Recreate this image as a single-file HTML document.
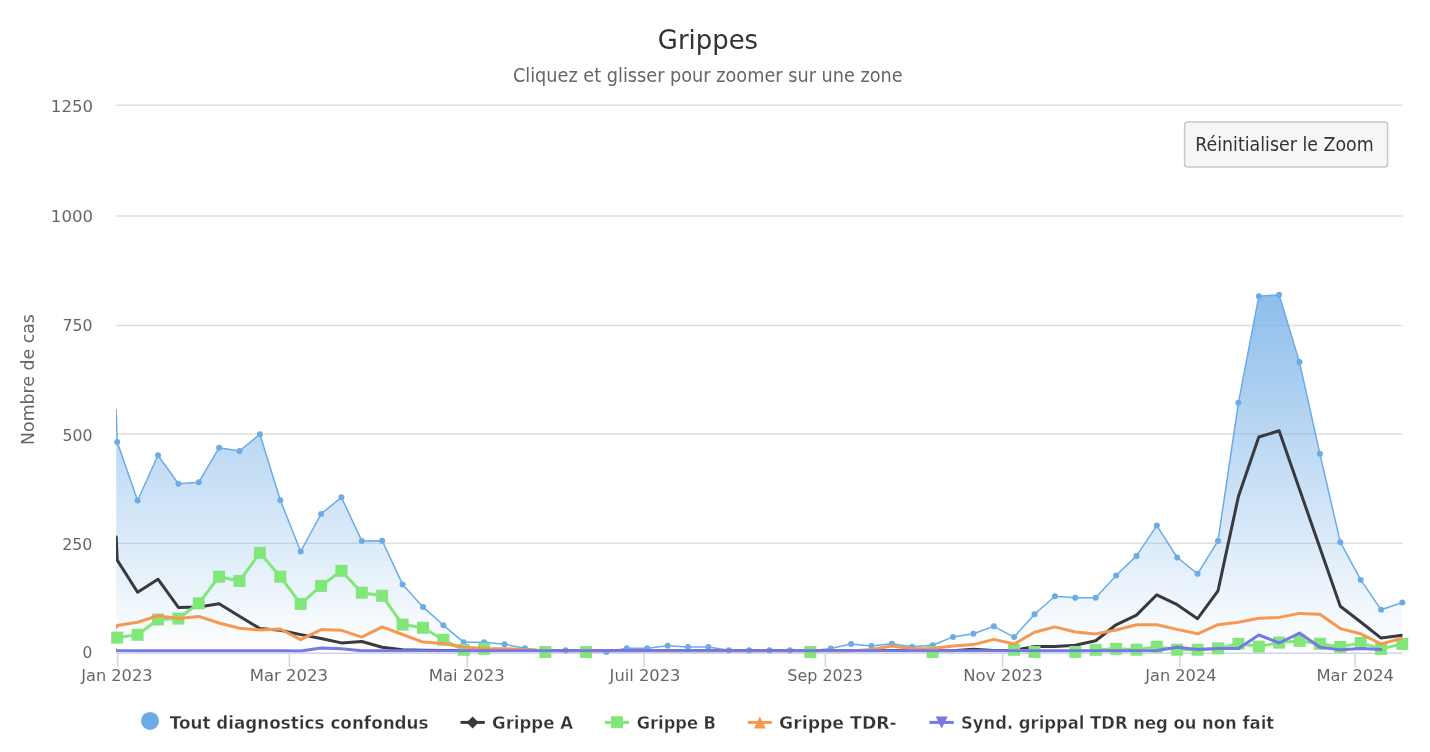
<!DOCTYPE html>
<html><head><meta charset="utf-8"><title>Grippes</title>
<style>svg{will-change:transform}html,body{margin:0;padding:0;background:#fff;width:1430px;height:752px;overflow:hidden}</style>
</head><body>
<svg width="1430" height="752" viewBox="0 0 1430 752" style="display:block;font-family:'DejaVu Sans', 'Liberation Sans', sans-serif">
<defs>
<linearGradient id="ag" gradientUnits="userSpaceOnUse" x1="0" y1="190" x2="0" y2="652.5">
<stop offset="0" stop-color="#6cabe6" stop-opacity="1"/><stop offset="1" stop-color="#6cabe6" stop-opacity="0"/></linearGradient>
<clipPath id="pc"><rect x="116" y="100" width="1286.5" height="552.5"/></clipPath>
<clipPath id="mc"><rect x="108" y="97" width="1302.5" height="563.5"/></clipPath>
</defs>
<rect width="1430" height="752" fill="#fff"/>
<path d="M116 543.3 H1402.5" stroke="#dfdfdf" stroke-width="1.5" fill="none"/>
<path d="M116 434 H1402.5" stroke="#dfdfdf" stroke-width="1.5" fill="none"/>
<path d="M116 325.6 H1402.5" stroke="#dfdfdf" stroke-width="1.5" fill="none"/>
<path d="M116 216.1 H1402.5" stroke="#dfdfdf" stroke-width="1.5" fill="none"/>
<path d="M116 105.25 H1402.5" stroke="#dfdfdf" stroke-width="1.5" fill="none"/>
<path d="M116 653.2 H1402.5" stroke="#ccd6eb" stroke-width="1.5" fill="none"/>
<path d="M117.8 653 V667" stroke="#ccd6eb" stroke-width="1.5" fill="none"/>
<path d="M289.4 653 V667" stroke="#ccd6eb" stroke-width="1.5" fill="none"/>
<path d="M467.2 653 V667" stroke="#ccd6eb" stroke-width="1.5" fill="none"/>
<path d="M644.2 653 V667" stroke="#ccd6eb" stroke-width="1.5" fill="none"/>
<path d="M825.4 653 V667" stroke="#ccd6eb" stroke-width="1.5" fill="none"/>
<path d="M1002.6 653 V667" stroke="#ccd6eb" stroke-width="1.5" fill="none"/>
<path d="M1179.8 653 V667" stroke="#ccd6eb" stroke-width="1.5" fill="none"/>
<path d="M1355.1 653 V667" stroke="#ccd6eb" stroke-width="1.5" fill="none"/>
<g clip-path="url(#pc)">
<path d="M116.2 410 L117.2 442 L137.6 500.5 L158 455.3 L178.4 483.7 L198.7 482.3 L219.1 447.7 L239.5 451 L259.9 434.2 L280.3 500.2 L300.7 551.5 L321.1 513.9 L341.4 497.3 L361.8 540.9 L382.2 540.7 L402.6 584.4 L423 606.9 L443.4 625.3 L463.7 642.2 L484.1 642.2 L504.5 644.3 L524.9 648.2 L545.3 650.5 L565.7 650.3 L586.1 651 L606.4 651.9 L626.8 648.2 L647.2 648.3 L667.6 645.8 L688 647 L708.4 647 L728.8 650.2 L749.1 650.2 L769.5 650.2 L789.9 650.3 L810.3 651 L830.7 648.5 L851.1 644.1 L871.4 645.9 L891.8 643.8 L912.2 646.7 L932.6 645.3 L953 636.9 L973.4 633.8 L993.8 626.3 L1014.1 637.1 L1034.5 614.3 L1054.9 596.2 L1075.3 597.8 L1095.7 597.8 L1116.1 575.5 L1136.5 555.9 L1156.8 525.6 L1177.2 557.5 L1197.6 573.8 L1218 540.9 L1238.4 402.8 L1258.8 296.3 L1279.1 294.8 L1299.5 362.1 L1319.9 453.8 L1340.3 542.2 L1360.7 579.9 L1381.1 609.7 L1402.3 602.5 L1402.3 652.5 L116.2 652.5 Z" fill="url(#ag)"/>
<path d="M116.2 410 L117.2 442 L137.6 500.5 L158 455.3 L178.4 483.7 L198.7 482.3 L219.1 447.7 L239.5 451 L259.9 434.2 L280.3 500.2 L300.7 551.5 L321.1 513.9 L341.4 497.3 L361.8 540.9 L382.2 540.7 L402.6 584.4 L423 606.9 L443.4 625.3 L463.7 642.2 L484.1 642.2 L504.5 644.3 L524.9 648.2 L545.3 650.5 L565.7 650.3 L586.1 651 L606.4 651.9 L626.8 648.2 L647.2 648.3 L667.6 645.8 L688 647 L708.4 647 L728.8 650.2 L749.1 650.2 L769.5 650.2 L789.9 650.3 L810.3 651 L830.7 648.5 L851.1 644.1 L871.4 645.9 L891.8 643.8 L912.2 646.7 L932.6 645.3 L953 636.9 L973.4 633.8 L993.8 626.3 L1014.1 637.1 L1034.5 614.3 L1054.9 596.2 L1075.3 597.8 L1095.7 597.8 L1116.1 575.5 L1136.5 555.9 L1156.8 525.6 L1177.2 557.5 L1197.6 573.8 L1218 540.9 L1238.4 402.8 L1258.8 296.3 L1279.1 294.8 L1299.5 362.1 L1319.9 453.8 L1340.3 542.2 L1360.7 579.9 L1381.1 609.7 L1402.3 602.5" fill="none" stroke="#6cabe6" stroke-width="1.5" stroke-linejoin="round" stroke-linecap="round"/>
</g>
<g clip-path="url(#mc)">
<circle cx="117.2" cy="442" r="3" fill="#6cabe6"/>
<circle cx="137.6" cy="500.5" r="3" fill="#6cabe6"/>
<circle cx="158" cy="455.3" r="3" fill="#6cabe6"/>
<circle cx="178.4" cy="483.7" r="3" fill="#6cabe6"/>
<circle cx="198.7" cy="482.3" r="3" fill="#6cabe6"/>
<circle cx="219.1" cy="447.7" r="3" fill="#6cabe6"/>
<circle cx="239.5" cy="451" r="3" fill="#6cabe6"/>
<circle cx="259.9" cy="434.2" r="3" fill="#6cabe6"/>
<circle cx="280.3" cy="500.2" r="3" fill="#6cabe6"/>
<circle cx="300.7" cy="551.5" r="3" fill="#6cabe6"/>
<circle cx="321.1" cy="513.9" r="3" fill="#6cabe6"/>
<circle cx="341.4" cy="497.3" r="3" fill="#6cabe6"/>
<circle cx="361.8" cy="540.9" r="3" fill="#6cabe6"/>
<circle cx="382.2" cy="540.7" r="3" fill="#6cabe6"/>
<circle cx="402.6" cy="584.4" r="3" fill="#6cabe6"/>
<circle cx="423" cy="606.9" r="3" fill="#6cabe6"/>
<circle cx="443.4" cy="625.3" r="3" fill="#6cabe6"/>
<circle cx="463.7" cy="642.2" r="3" fill="#6cabe6"/>
<circle cx="484.1" cy="642.2" r="3" fill="#6cabe6"/>
<circle cx="504.5" cy="644.3" r="3" fill="#6cabe6"/>
<circle cx="524.9" cy="648.2" r="3" fill="#6cabe6"/>
<circle cx="545.3" cy="650.5" r="3" fill="#6cabe6"/>
<circle cx="565.7" cy="650.3" r="3" fill="#6cabe6"/>
<circle cx="586.1" cy="651" r="3" fill="#6cabe6"/>
<circle cx="606.4" cy="651.9" r="3" fill="#6cabe6"/>
<circle cx="626.8" cy="648.2" r="3" fill="#6cabe6"/>
<circle cx="647.2" cy="648.3" r="3" fill="#6cabe6"/>
<circle cx="667.6" cy="645.8" r="3" fill="#6cabe6"/>
<circle cx="688" cy="647" r="3" fill="#6cabe6"/>
<circle cx="708.4" cy="647" r="3" fill="#6cabe6"/>
<circle cx="728.8" cy="650.2" r="3" fill="#6cabe6"/>
<circle cx="749.1" cy="650.2" r="3" fill="#6cabe6"/>
<circle cx="769.5" cy="650.2" r="3" fill="#6cabe6"/>
<circle cx="789.9" cy="650.3" r="3" fill="#6cabe6"/>
<circle cx="810.3" cy="651" r="3" fill="#6cabe6"/>
<circle cx="830.7" cy="648.5" r="3" fill="#6cabe6"/>
<circle cx="851.1" cy="644.1" r="3" fill="#6cabe6"/>
<circle cx="871.4" cy="645.9" r="3" fill="#6cabe6"/>
<circle cx="891.8" cy="643.8" r="3" fill="#6cabe6"/>
<circle cx="912.2" cy="646.7" r="3" fill="#6cabe6"/>
<circle cx="932.6" cy="645.3" r="3" fill="#6cabe6"/>
<circle cx="953" cy="636.9" r="3" fill="#6cabe6"/>
<circle cx="973.4" cy="633.8" r="3" fill="#6cabe6"/>
<circle cx="993.8" cy="626.3" r="3" fill="#6cabe6"/>
<circle cx="1014.1" cy="637.1" r="3" fill="#6cabe6"/>
<circle cx="1034.5" cy="614.3" r="3" fill="#6cabe6"/>
<circle cx="1054.9" cy="596.2" r="3" fill="#6cabe6"/>
<circle cx="1075.3" cy="597.8" r="3" fill="#6cabe6"/>
<circle cx="1095.7" cy="597.8" r="3" fill="#6cabe6"/>
<circle cx="1116.1" cy="575.5" r="3" fill="#6cabe6"/>
<circle cx="1136.5" cy="555.9" r="3" fill="#6cabe6"/>
<circle cx="1156.8" cy="525.6" r="3" fill="#6cabe6"/>
<circle cx="1177.2" cy="557.5" r="3" fill="#6cabe6"/>
<circle cx="1197.6" cy="573.8" r="3" fill="#6cabe6"/>
<circle cx="1218" cy="540.9" r="3" fill="#6cabe6"/>
<circle cx="1238.4" cy="402.8" r="3" fill="#6cabe6"/>
<circle cx="1258.8" cy="296.3" r="3" fill="#6cabe6"/>
<circle cx="1279.1" cy="294.8" r="3" fill="#6cabe6"/>
<circle cx="1299.5" cy="362.1" r="3" fill="#6cabe6"/>
<circle cx="1319.9" cy="453.8" r="3" fill="#6cabe6"/>
<circle cx="1340.3" cy="542.2" r="3" fill="#6cabe6"/>
<circle cx="1360.7" cy="579.9" r="3" fill="#6cabe6"/>
<circle cx="1381.1" cy="609.7" r="3" fill="#6cabe6"/>
<circle cx="1402.3" cy="602.5" r="3" fill="#6cabe6"/>
</g>
<g clip-path="url(#pc)"><path d="M116.2 537 L117.2 560 L137.6 592.2 L158 579.2 L178.4 607.4 L198.7 607.1 L219.1 603.8 L239.5 616.2 L259.9 628.6 L280.3 630.3 L300.7 634.6 L321.1 638.5 L341.4 642.9 L361.8 641.5 L382.2 647.3 L402.6 649.8 L423 650.3 L443.4 650.6 L463.7 650.6 L484.1 650.6 L504.5 650.6 L524.9 650.6 L545.3 650.6 L565.7 650.6 L586.1 650.6 L606.4 650.6 L626.8 650.6 L647.2 650.6 L667.6 650.6 L688 650.6 L708.4 650.6 L728.8 650.6 L749.1 650.6 L769.5 650.6 L789.9 650.6 L810.3 650.6 L830.7 650.6 L851.1 650.6 L871.4 650.6 L891.8 650.6 L912.2 650.6 L932.6 650.6 L953 650.8 L973.4 649.3 L993.8 650.5 L1014.1 650.4 L1034.5 646.5 L1054.9 646.4 L1075.3 645.2 L1095.7 640.7 L1116.1 624.8 L1136.5 615.1 L1156.8 594.8 L1177.2 604.7 L1197.6 618.7 L1218 590.8 L1238.4 496.6 L1258.8 437 L1279.1 430.8 L1299.5 489.3 L1319.9 547.7 L1340.3 606.2 L1360.7 622 L1381.1 638.1 L1402.3 635.3" fill="none" stroke="#39393f" stroke-width="3" stroke-linejoin="round" stroke-linecap="round"/>
<path d="M117.2 637.6 L137.6 634.8 L158 619.5 L178.4 618.6 L198.7 603.3 L219.1 576.7 L239.5 581 L259.9 552.8 L280.3 576.7 L300.7 603.9 L321.1 585.9 L341.4 570.8 L361.8 592.7 L382.2 595.8 L402.6 624.6 L423 627.8 L443.4 639.8 L463.7 649.8 L484.1 648.8 M1014.1 649.8 L1034.5 651.9 M1075.3 651.9 L1095.7 649.8 L1116.1 648.8 L1136.5 649.7 L1156.8 646.8 L1177.2 649.7 L1197.6 649.7 L1218 648.4 L1238.4 643.8 L1258.8 646.6 L1279.1 642.6 L1299.5 640.9 L1319.9 643.8 L1340.3 646.9 L1360.7 642.9 L1381.1 648.9 L1402.3 643.9" fill="none" stroke="#82e77a" stroke-width="3" stroke-linejoin="round" stroke-linecap="round"/></g>
<g clip-path="url(#mc)">
<rect x="111.2" y="631.6" width="12" height="12" fill="#82e77a"/>
<rect x="131.6" y="628.8" width="12" height="12" fill="#82e77a"/>
<rect x="152" y="613.5" width="12" height="12" fill="#82e77a"/>
<rect x="172.4" y="612.6" width="12" height="12" fill="#82e77a"/>
<rect x="192.7" y="597.3" width="12" height="12" fill="#82e77a"/>
<rect x="213.1" y="570.7" width="12" height="12" fill="#82e77a"/>
<rect x="233.5" y="575" width="12" height="12" fill="#82e77a"/>
<rect x="253.9" y="546.8" width="12" height="12" fill="#82e77a"/>
<rect x="274.3" y="570.7" width="12" height="12" fill="#82e77a"/>
<rect x="294.7" y="597.9" width="12" height="12" fill="#82e77a"/>
<rect x="315.1" y="579.9" width="12" height="12" fill="#82e77a"/>
<rect x="335.4" y="564.8" width="12" height="12" fill="#82e77a"/>
<rect x="355.8" y="586.7" width="12" height="12" fill="#82e77a"/>
<rect x="376.2" y="589.8" width="12" height="12" fill="#82e77a"/>
<rect x="396.6" y="618.6" width="12" height="12" fill="#82e77a"/>
<rect x="417" y="621.8" width="12" height="12" fill="#82e77a"/>
<rect x="437.4" y="633.8" width="12" height="12" fill="#82e77a"/>
<rect x="457.7" y="643.8" width="12" height="12" fill="#82e77a"/>
<rect x="478.1" y="642.8" width="12" height="12" fill="#82e77a"/>
<rect x="539.3" y="646" width="12" height="12" fill="#82e77a"/>
<rect x="580.1" y="646" width="12" height="12" fill="#82e77a"/>
<rect x="804.3" y="646" width="12" height="12" fill="#82e77a"/>
<rect x="926.6" y="646" width="12" height="12" fill="#82e77a"/>
<rect x="1008.1" y="643.8" width="12" height="12" fill="#82e77a"/>
<rect x="1028.5" y="645.9" width="12" height="12" fill="#82e77a"/>
<rect x="1069.3" y="645.9" width="12" height="12" fill="#82e77a"/>
<rect x="1089.7" y="643.8" width="12" height="12" fill="#82e77a"/>
<rect x="1110.1" y="642.8" width="12" height="12" fill="#82e77a"/>
<rect x="1130.5" y="643.7" width="12" height="12" fill="#82e77a"/>
<rect x="1150.8" y="640.8" width="12" height="12" fill="#82e77a"/>
<rect x="1171.2" y="643.7" width="12" height="12" fill="#82e77a"/>
<rect x="1191.6" y="643.7" width="12" height="12" fill="#82e77a"/>
<rect x="1212" y="642.4" width="12" height="12" fill="#82e77a"/>
<rect x="1232.4" y="637.8" width="12" height="12" fill="#82e77a"/>
<rect x="1252.8" y="640.6" width="12" height="12" fill="#82e77a"/>
<rect x="1273.1" y="636.6" width="12" height="12" fill="#82e77a"/>
<rect x="1293.5" y="634.9" width="12" height="12" fill="#82e77a"/>
<rect x="1313.9" y="637.8" width="12" height="12" fill="#82e77a"/>
<rect x="1334.3" y="640.9" width="12" height="12" fill="#82e77a"/>
<rect x="1354.7" y="636.9" width="12" height="12" fill="#82e77a"/>
<rect x="1375.1" y="642.9" width="12" height="12" fill="#82e77a"/>
<rect x="1396.3" y="637.9" width="12" height="12" fill="#82e77a"/>
</g>
<g clip-path="url(#pc)"><path d="M116.2 627.5 L117.2 625.5 L137.6 622.3 L158 615.8 L178.4 618.6 L198.7 616.4 L219.1 623 L239.5 628.2 L259.9 630 L280.3 629.1 L300.7 639.7 L321.1 629.6 L341.4 630.3 L361.8 637.1 L382.2 626.9 L402.6 634.5 L423 642.1 L443.4 643.5 L463.7 647.3 L484.1 648.6 L504.5 648.7 L524.9 649.5 L545.3 650.9 L565.7 650.9 L586.1 650.9 L606.4 650.9 L626.8 650.9 L647.2 650.9 L667.6 650.9 L688 650.9 L708.4 650.9 L728.8 650.9 L749.1 650.9 L769.5 650.9 L789.9 650.9 L810.3 650.9 L830.7 650.9 L851.1 650.9 L871.4 649.6 L891.8 646.1 L912.2 648.8 L932.6 648.5 L953 645.9 L973.4 644.6 L993.8 639.4 L1014.1 644 L1034.5 632.2 L1054.9 626.9 L1075.3 632 L1095.7 633.9 L1116.1 630 L1136.5 624.8 L1156.8 624.8 L1177.2 629.4 L1197.6 633.8 L1218 624.7 L1238.4 622.3 L1258.8 618.2 L1279.1 617.4 L1299.5 613.4 L1319.9 614.2 L1340.3 628.6 L1360.7 633.8 L1381.1 644 L1402.3 638.1" fill="none" stroke="#f79852" stroke-width="3" stroke-linejoin="round" stroke-linecap="round"/>
<path d="M116.2 650.3 L117.2 650.4 L137.6 650.8 L158 650.8 L178.4 650.8 L198.7 650.8 L219.1 650.8 L239.5 650.8 L259.9 650.8 L280.3 650.8 L300.7 651 L321.1 648 L341.4 648.8 L361.8 650.7 L382.2 650.8 L402.6 650.8 L423 650.8 L443.4 650.8 L463.7 650.8 L484.1 650.8 L504.5 650.8 L524.9 650.8 L545.3 650.8 L565.7 650.8 L586.1 650.8 L606.4 650.8 L626.8 650.8 L647.2 650.8 L667.6 650.8 L688 650.8 L708.4 650.8 L728.8 650.8 L749.1 650.8 L769.5 650.8 L789.9 650.8 L810.3 650.8 L830.7 650.8 L851.1 650.8 L871.4 650.8 L891.8 650.8 L912.2 650.8 L932.6 650.8 L953 650.8 L973.4 650.8 L993.8 650.8 L1014.1 650.8 L1034.5 650.8 L1054.9 650.8 L1075.3 650.8 L1095.7 650.8 L1116.1 650.8 L1136.5 650.8 L1156.8 650.6 L1177.2 647.3 L1197.6 649.5 L1218 648.6 L1238.4 648.6 L1258.8 635 L1279.1 643 L1299.5 633.1 L1319.9 647.3 L1340.3 649.8 L1360.7 648.5 L1381.1 649.5" fill="none" stroke="#7479e5" stroke-width="3" stroke-linejoin="round" stroke-linecap="round"/></g>
<rect x="1184.6" y="122.1" width="203" height="45" rx="3" fill="#f6f6f6" stroke="#c8c8c8" stroke-width="1.5"/>
<text x="657.84" y="49.2" font-size="27" fill="#333333" textLength="100.28" lengthAdjust="spacingAndGlyphs">Grippes</text>
<text x="512.89" y="82" font-size="19.5" fill="#666666" textLength="389.82" lengthAdjust="spacingAndGlyphs">Cliquez et glisser pour zoomer sur une zone</text>
<text x="1195.22" y="150.9" font-size="19.5" fill="#333333" textLength="178.41" lengthAdjust="spacingAndGlyphs">Réinitialiser le Zoom</text>
<text x="169.70" y="728.8" font-size="18" font-weight="bold" stroke="#fff" stroke-width="0.35" fill="#333333" textLength="258.88" lengthAdjust="spacingAndGlyphs">Tout diagnostics confondus</text>
<text x="492.08" y="728.8" font-size="18" font-weight="bold" stroke="#fff" stroke-width="0.35" fill="#333333" textLength="80.92" lengthAdjust="spacingAndGlyphs">Grippe A</text>
<text x="636.70" y="728.8" font-size="18" font-weight="bold" stroke="#fff" stroke-width="0.35" fill="#333333" textLength="79.32" lengthAdjust="spacingAndGlyphs">Grippe B</text>
<text x="779.04" y="728.8" font-size="18" font-weight="bold" stroke="#fff" stroke-width="0.35" fill="#333333" textLength="117.66" lengthAdjust="spacingAndGlyphs">Grippe TDR-</text>
<text x="960.99" y="728.8" font-size="18" font-weight="bold" stroke="#fff" stroke-width="0.35" fill="#333333" textLength="313.11" lengthAdjust="spacingAndGlyphs">Synd. grippal TDR neg ou non fait</text>
<text x="81.28" y="681.1" font-size="16.5" fill="#666666" textLength="71.18" lengthAdjust="spacingAndGlyphs">Jan 2023</text>
<text x="249.70" y="681.1" font-size="16.5" fill="#666666" textLength="78.27" lengthAdjust="spacingAndGlyphs">Mar 2023</text>
<text x="428.71" y="681.1" font-size="16.5" fill="#666666" textLength="75.96" lengthAdjust="spacingAndGlyphs">Mai 2023</text>
<text x="609.59" y="681.1" font-size="16.5" fill="#666666" textLength="70.84" lengthAdjust="spacingAndGlyphs">Juil 2023</text>
<text x="787.33" y="681.1" font-size="16.5" fill="#666666" textLength="75.66" lengthAdjust="spacingAndGlyphs">Sep 2023</text>
<text x="963.30" y="681.1" font-size="16.5" fill="#666666" textLength="79.35" lengthAdjust="spacingAndGlyphs">Nov 2023</text>
<text x="1145.28" y="681.1" font-size="16.5" fill="#666666" textLength="71.18" lengthAdjust="spacingAndGlyphs">Jan 2024</text>
<text x="1316.42" y="681.1" font-size="16.5" fill="#666666" textLength="77.55" lengthAdjust="spacingAndGlyphs">Mar 2024</text>
<text x="82.47" y="658.0" font-size="16.5" fill="#666666" textLength="9.80" lengthAdjust="spacingAndGlyphs">0</text>
<text x="62.24" y="549.8" font-size="16.5" fill="#666666" textLength="30.14" lengthAdjust="spacingAndGlyphs">250</text>
<text x="62.45" y="440.8" font-size="16.5" fill="#666666" textLength="29.93" lengthAdjust="spacingAndGlyphs">500</text>
<text x="62.45" y="330.8" font-size="16.5" fill="#666666" textLength="29.93" lengthAdjust="spacingAndGlyphs">750</text>
<text x="50.88" y="222.2" font-size="16.5" fill="#666666" textLength="42.32" lengthAdjust="spacingAndGlyphs">1000</text>
<text x="50.89" y="112.1" font-size="16.5" fill="#666666" textLength="42.22" lengthAdjust="spacingAndGlyphs">1250</text>
<text transform="translate(33.8 0) rotate(-90)" x="-444.93" y="0" font-size="18" fill="#666666" textLength="130.76" lengthAdjust="spacingAndGlyphs">Nombre de cas</text>
<circle cx="150" cy="720.9" r="9" fill="#6cabe6"/>
<path d="M460.5 722.4 H484.8" stroke="#39393f" stroke-width="3"/><path d="M472.6 716.4 L478.6 722.4 L472.6 728.4 L466.6 722.4 Z" fill="#39393f"/>
<path d="M604.9 722.4 H629" stroke="#82e77a" stroke-width="3"/><rect x="611" y="716.2" width="12" height="12" fill="#82e77a"/>
<path d="M747.8 722.4 H771.8" stroke="#f79852" stroke-width="3"/><path d="M759.8 716.4 L765.8 728.4 L753.8 728.4 Z" fill="#f79852"/>
<path d="M929.5 722.4 H953.8" stroke="#7479e5" stroke-width="3"/><path d="M935.7 716.4 L947.7 716.4 L941.7 728.4 Z" fill="#7479e5"/>
</svg>
</body></html>
